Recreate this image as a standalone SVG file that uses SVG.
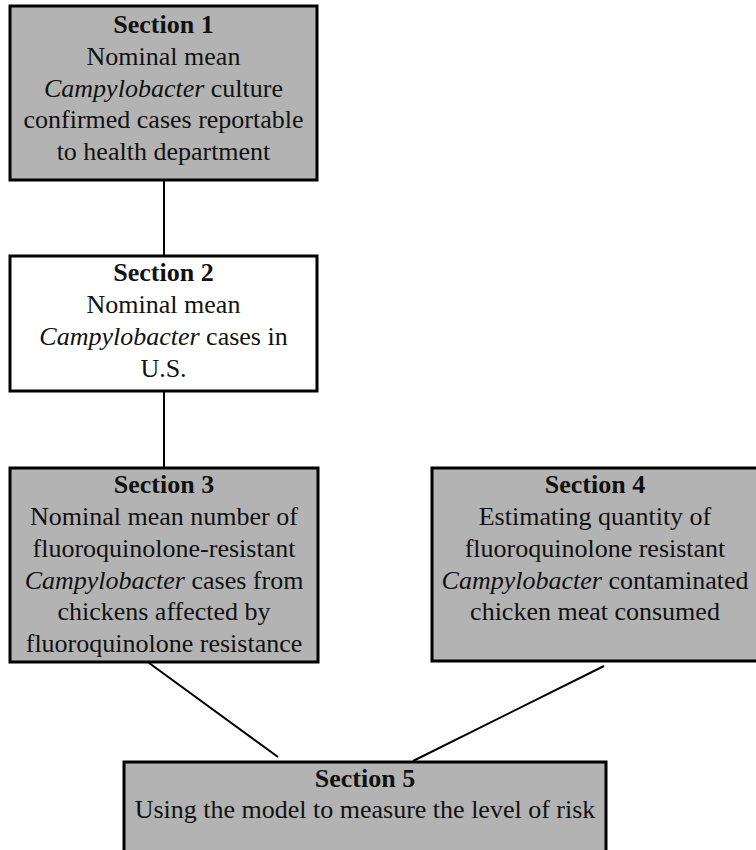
<svg xmlns="http://www.w3.org/2000/svg" width="756" height="850" viewBox="0 0 756 850">
<style>
.box{stroke:#000;stroke-width:3}
.gray{fill:#b3b3b3}
.white{fill:#fff}
text{font-family:"Liberation Serif","Times New Roman",serif;font-size:26px;fill:#111;text-anchor:middle}
.b{font-weight:bold}
.i{font-style:italic}
.conn{stroke:#000;stroke-width:2;fill:none}
</style>
<rect width="756" height="850" fill="#fff"/>
<g id="connectors">
<line class="conn" x1="164" y1="181" x2="164" y2="256"/>
<line class="conn" x1="164" y1="392" x2="164" y2="468"/>
<line class="conn" x1="145" y1="660" x2="278" y2="757"/>
<line class="conn" x1="604" y1="666" x2="413" y2="761"/>
</g>
<g id="section1">
<rect class="box gray" x="10" y="6" width="307" height="174"/>
<text x="163.5" y="33" class="b">Section 1</text>
<text x="163.5" y="65">Nominal mean</text>
<text x="163.5" y="96.5"><tspan class="i">Campylobacter</tspan> culture</text>
<text x="163.5" y="128">confirmed cases reportable</text>
<text x="163.5" y="159.5">to health department</text>
</g>
<g id="section2">
<rect class="box white" x="10" y="256" width="307" height="135"/>
<text x="163.5" y="281" class="b">Section 2</text>
<text x="163.5" y="313">Nominal mean</text>
<text x="163.5" y="345"><tspan class="i">Campylobacter</tspan> cases in</text>
<text x="163.5" y="377">U.S.</text>
</g>
<g id="section3">
<rect class="box gray" x="10" y="468" width="308" height="194"/>
<text x="164" y="493" class="b">Section 3</text>
<text x="164" y="525">Nominal mean number of</text>
<text x="164" y="557">fluoroquinolone-resistant</text>
<text x="164" y="588.5"><tspan class="i">Campylobacter</tspan> cases from</text>
<text x="164" y="620">chickens affected by</text>
<text x="164" y="652">fluoroquinolone resistance</text>
</g>
<g id="section4">
<rect class="box gray" x="432" y="468" width="328" height="193"/>
<text x="595" y="493" class="b">Section 4</text>
<text x="595" y="525">Estimating quantity of</text>
<text x="595" y="557">fluoroquinolone resistant</text>
<text x="595" y="588.5"><tspan class="i">Campylobacter</tspan> contaminated</text>
<text x="595" y="620">chicken meat consumed</text>
</g>
<g id="section5">
<rect class="box gray" x="124" y="762" width="482" height="100"/>
<text x="365" y="787" class="b">Section 5</text>
<text x="365" y="818">Using the model to measure the level of risk</text>
</g>
</svg>
